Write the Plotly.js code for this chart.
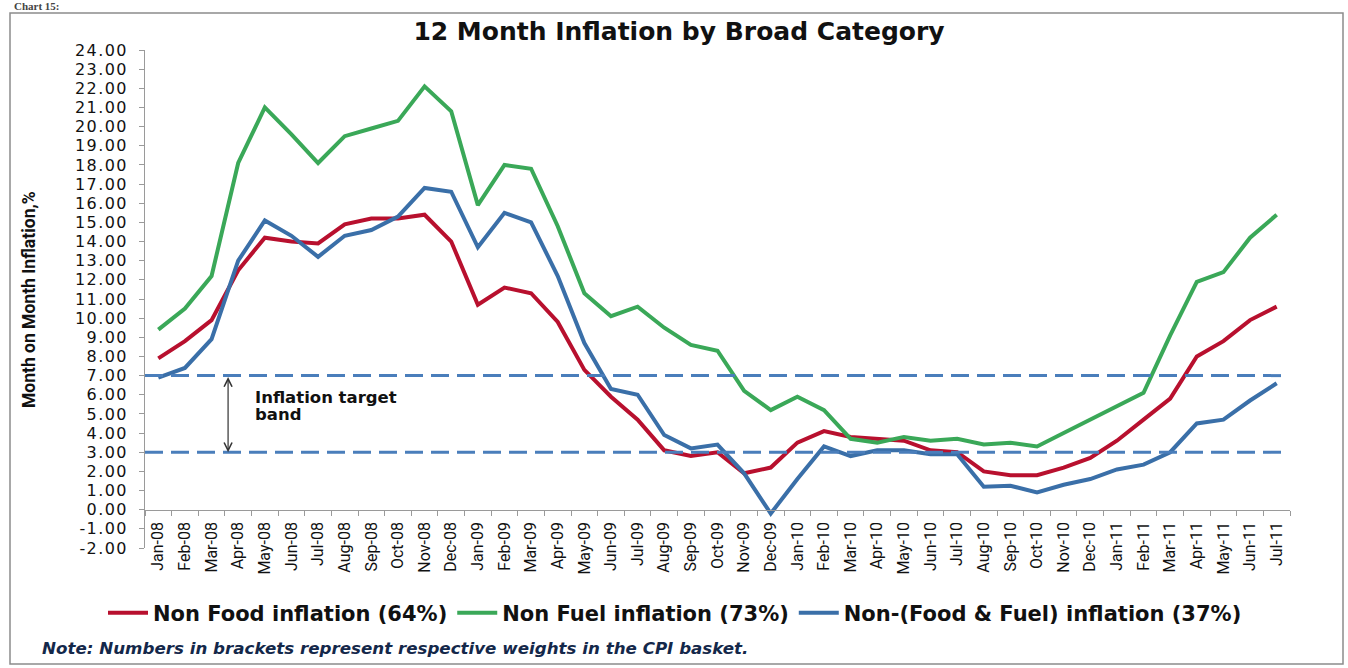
<!DOCTYPE html>
<html>
<head>
<meta charset="utf-8">
<script src="https://cdn.plot.ly/plotly-3.0.1.min.js"></script>
<style>
  html, body { margin: 0; padding: 0; background: #fff; }
  #chart { width: 1348px; height: 668px; }
  #chart .ytick text { letter-spacing: 1.4px; }
</style>
</head>
<body>
<div id="chart"></div>
<script>
const months = [
  'Jan-08','Feb-08','Mar-08','Apr-08','May-08','Jun-08','Jul-08','Aug-08','Sep-08','Oct-08','Nov-08','Dec-08',
  'Jan-09','Feb-09','Mar-09','Apr-09','May-09','Jun-09','Jul-09','Aug-09','Sep-09','Oct-09','Nov-09','Dec-09',
  'Jan-10','Feb-10','Mar-10','Apr-10','May-10','Jun-10','Jul-10','Aug-10','Sep-10','Oct-10','Nov-10','Dec-10',
  'Jan-11','Feb-11','Mar-11','Apr-11','May-11','Jun-11','Jul-11'
];
const nonFood = [
  7.9, 8.8, 9.9, 12.5, 14.2, 14.0, 13.9, 14.9, 15.2, 15.2, 15.4, 14.0,
  10.7, 11.6, 11.3, 9.8, 7.3, 5.9, 4.7, 3.1, 2.8, 3.0, 1.9, 2.2,
  3.5, 4.1, 3.8, 3.7, 3.6, 3.1, 3.0, 2.0, 1.8, 1.8, 2.2, 2.7,
  3.6, 4.7, 5.8, 8.0, 8.8, 9.9, 10.6
];
const nonFuel = [
  9.4, 10.5, 12.2, 18.1, 21.0, 19.6, 18.1, 19.5, 19.9, 20.3, 22.1, 20.8,
  15.9, 18.0, 17.8, 14.8, 11.3, 10.1, 10.6, 9.5, 8.6, 8.3, 6.2, 5.2,
  5.9, 5.2, 3.7, 3.5, 3.8, 3.6, 3.7, 3.4, 3.5, 3.3, 4.0, 4.7,
  5.4, 6.1, 9.1, 11.9, 12.4, 14.2, 15.4
];
const nonFoodFuel = [
  6.9, 7.4, 8.9, 13.0, 15.1, 14.3, 13.2, 14.3, 14.6, 15.3, 16.8, 16.6,
  13.7, 15.5, 15.0, 12.2, 8.7, 6.3, 6.0, 3.9, 3.2, 3.4, 1.9, -0.2,
  1.6, 3.3, 2.8, 3.1, 3.1, 2.9, 2.9, 1.2, 1.25, 0.9, 1.3, 1.6,
  2.1, 2.35, 3.0, 4.5, 4.7, 5.7, 6.6
];
const seriesNames = [
  'Non Food inflation (64%)',
  'Non Fuel inflation (73%)',
  'Non-(Food & Fuel) inflation (37%)'
];
const yTickValues = [-2,-1,0,1,2,3,4,5,6,7,8,9,10,11,12,13,14,15,16,17,18,19,20,21,22,23,24];
const yTickLabels = yTickValues.map(v => v.toFixed(2));
const targetUpper = 7;
const targetLower = 3;
const yMin = -2, yMax = 24;

const lineW = 4;
const traces = [
  { x: months, y: nonFood, name: seriesNames[0], type: 'scatter', mode: 'lines',
    line: { color: '#b8102e', width: lineW } },
  { x: months, y: nonFuel, name: seriesNames[1], type: 'scatter', mode: 'lines',
    line: { color: '#3aa858', width: lineW } },
  { x: months, y: nonFoodFuel, name: seriesNames[2], type: 'scatter', mode: 'lines',
    line: { color: '#3a6fa8', width: lineW } }
];

const L = 145, R = 1290, T = 50, B = 548;
const px2x = p => (p - L) / (R - L);
const px2y = p => (B - p) / (B - T);

const layout = {
  width: 1348, height: 668,
  margin: { l: L, r: 1348 - R, t: T, b: 668 - B },
  paper_bgcolor: '#ffffff', plot_bgcolor: '#ffffff',
  showlegend: true,
  title: {
    text: '12 Month Inflation by Broad Category',
    font: { family: 'DejaVu Sans', size: 25, color: '#111111', weight: 'bold' },
    xref: 'paper', x: px2x(679), xanchor: 'center',
    yref: 'container', y: 1 - 31/668, yanchor: 'middle'
  },
  xaxis: {
    type: 'category',
    range: [-0.5, months.length - 0.5],
    anchor: 'free',
    position: (0 - yMin) / (yMax - yMin),
    showline: true, linecolor: '#9a9a9a', linewidth: 1,
    ticks: 'outside', tickson: 'boundaries', ticklen: 5, tickcolor: '#9a9a9a',
    tickangle: -90, ticklabelstandoff: 5,
    tickfont: { family: 'Roboto', size: 16, color: '#111111' },
    showgrid: false, zeroline: false, automargin: false, fixedrange: true
  },
  yaxis: {
    range: [yMin, yMax],
    tickmode: 'array', tickvals: yTickValues, ticktext: yTickLabels,
    showline: true, linecolor: '#9a9a9a', linewidth: 1,
    ticks: 'outside', ticklen: 5, tickcolor: '#9a9a9a', ticklabelstandoff: 8,
    tickfont: { family: 'DejaVu Sans', size: 16, color: '#111111' },
    showgrid: false, zeroline: false, automargin: false, fixedrange: true
  },
  legend: {
    orientation: 'h',
    x: px2x(675), xanchor: 'center',
    y: px2y(613), yanchor: 'middle',
    font: { family: 'DejaVu Sans', size: 21, color: '#111111', weight: 'bold' },
    itemwidth: 40,
    bgcolor: 'rgba(0,0,0,0)'
  },
  shapes: [
    { type: 'line', xref: 'paper', yref: 'y', x0: 0, x1: 0.998, y0: targetUpper, y1: targetUpper,
      line: { color: '#4a7ebb', width: 3, dash: '18px,8px' } },
    { type: 'line', xref: 'paper', yref: 'y', x0: 0, x1: 0.998, y0: targetLower, y1: targetLower,
      line: { color: '#4a7ebb', width: 3, dash: '18px,8px' } },
    { type: 'rect', xref: 'paper', yref: 'paper',
      x0: px2x(10), x1: px2x(1343), y0: px2y(664), y1: px2y(13),
      line: { color: '#8c8c8c', width: 1.5 }, fillcolor: 'rgba(0,0,0,0)' }
  ],
  annotations: [
    { x: 2.62, y: targetLower, ax: 2.62, ay: targetUpper, xref: 'x', yref: 'y', axref: 'x', ayref: 'y',
      text: '', showarrow: true, arrowside: 'end+start', arrowhead: 5, arrowsize: 1.3,
      arrowwidth: 1.2, arrowcolor: '#333333', standoff: 0, startstandoff: 0 },
    { x: 3.56, y: 5.85, xref: 'x', yref: 'y', xanchor: 'left', yanchor: 'middle', align: 'left',
      text: 'Inflation target', showarrow: false,
      font: { family: 'DejaVu Sans', size: 16.5, color: '#111111', weight: 'bold' } },
    { x: 3.56, y: 4.95, xref: 'x', yref: 'y', xanchor: 'left', yanchor: 'middle', align: 'left',
      text: 'band', showarrow: false,
      font: { family: 'DejaVu Sans', size: 16.5, color: '#111111', weight: 'bold' } },
    { x: px2x(29), y: px2y(300), xref: 'paper', yref: 'paper', xanchor: 'center', yanchor: 'middle',
      text: 'Month on Month Inflation,%', textangle: -90, showarrow: false,
      font: { family: 'Roboto', size: 17.5, color: '#111111', weight: 'bold' } },
    { x: px2x(40), y: px2y(648), xref: 'paper', yref: 'paper', xanchor: 'left', yanchor: 'middle',
      text: '<b><i>Note: Numbers in brackets represent respective weights in the CPI basket.</i></b>',
      showarrow: false,
      font: { family: 'DejaVu Sans', size: 16.7, color: '#14284a' } },
    { x: px2x(12), y: px2y(6), xref: 'paper', yref: 'paper', xanchor: 'left', yanchor: 'middle',
      text: '<b>Chart 15:</b>', showarrow: false,
      font: { family: 'Liberation Serif', size: 11, color: '#444444' } }
  ]
};

Plotly.newPlot('chart', traces, layout, { displayModeBar: false, staticPlot: true });
</script>
</body>
</html>
